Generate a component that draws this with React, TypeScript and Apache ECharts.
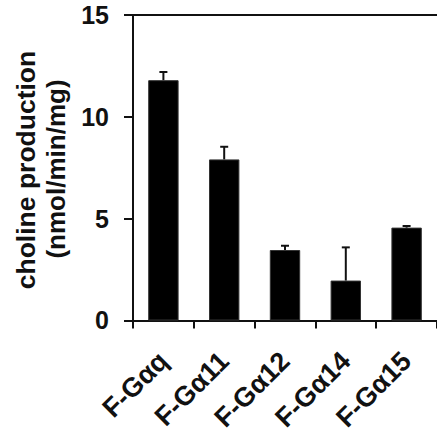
import React, { useEffect, useRef } from "react";
import * as echarts from "echarts";

const categories = ["F-Gαq", "F-Gα11", "F-Gα12", "F-Gα14", "F-Gα15"];
const means = [11.8, 7.91, 3.46, 1.96, 4.56];
const errors = [0.4, 0.62, 0.21, 1.63, 0.08];
const yTicks = [0, 5, 10, 15];
const yTitleLines = ["choline production", "(nmol/min/mg)"];

const FONT = "'Liberation Sans', Arial, Helvetica, sans-serif";
const INK = "#111";

export default function App() {
  const ref = useRef<HTMLDivElement>(null);
  useEffect(() => {
    if (!ref.current) return;
    const chart = echarts.init(ref.current, undefined, { renderer: "svg" });
    const errData = means.map((m, i) => [i, m, m + errors[i]]);
    chart.setOption({
      animation: false,
      backgroundColor: "#fff",
      grid: { left: 133, top: 15, right: -10, bottom: 110, containLabel: false },
      xAxis: [
        {
          type: "category",
          data: categories,
          boundaryGap: true,
          axisLine: { lineStyle: { color: INK, width: 2 } },
          axisTick: { show: true, length: 8, lineStyle: { color: INK, width: 2 } },
          axisLabel: {
            rotate: 45,
            margin: 36,
            padding: [20, 0, 0, 0],
            fontFamily: FONT,
            fontSize: 27,
            fontWeight: "bold",
            color: INK,
            interval: 0,
          },
        },
        {
          type: "category",
          data: categories,
          position: "top",
          axisLine: { lineStyle: { color: INK, width: 2 } },
          axisTick: { show: false },
          axisLabel: { show: false },
        },
      ],
      yAxis: {
        type: "value",
        min: yTicks[0],
        max: yTicks[yTicks.length - 1],
        interval: 5,
        splitLine: { show: false },
        axisLine: { show: true, lineStyle: { color: INK, width: 2 } },
        axisTick: { show: true, length: 9, lineStyle: { color: INK, width: 2 } },
        axisLabel: {
          margin: 24,
          fontFamily: FONT,
          fontSize: 25,
          fontWeight: "bold",
          color: INK,
        },
      },
      graphic: [
        {
          type: "text",
          x: 26,
          y: 170,
          rotation: Math.PI / 2,
          style: {
            text: yTitleLines[0],
            fontFamily: FONT,
            fontSize: 26.5,
            fontWeight: "bold",
            fill: INK,
            textAlign: "center",
            textVerticalAlign: "middle",
          },
        },
        {
          type: "text",
          x: 56,
          y: 169,
          rotation: Math.PI / 2,
          style: {
            text: yTitleLines[1],
            fontFamily: FONT,
            fontSize: 26,
            fontWeight: "bold",
            fill: INK,
            textAlign: "center",
            textVerticalAlign: "middle",
          },
        },
      ],
      series: [
        {
          type: "bar",
          data: means,
          barWidth: "50%",
          itemStyle: { color: "#000", borderColor: "#333", borderWidth: 1 },
        },
        {
          type: "custom",
          data: errData,
          renderItem: (params: any, api: any) => {
            const x = api.value(0);
            const lo = api.coord([x, api.value(1)]);
            const hi = api.coord([x, api.value(2)]);
            const cap = 4;
            return {
              type: "group",
              children: [
                {
                  type: "line",
                  shape: { x1: lo[0], y1: lo[1], x2: hi[0], y2: hi[1] },
                  style: { stroke: INK, lineWidth: 2 },
                },
                {
                  type: "line",
                  shape: { x1: hi[0] - cap, y1: hi[1], x2: hi[0] + cap, y2: hi[1] },
                  style: { stroke: INK, lineWidth: 2 },
                },
              ],
            };
          },
          z: 10,
        },
      ],
    });
    return () => chart.dispose();
  }, []);
  return (
    <div
      ref={ref}
      style={{ position: "fixed", left: 0, top: 0, width: 437, height: 434 }}
    />
  );
}
